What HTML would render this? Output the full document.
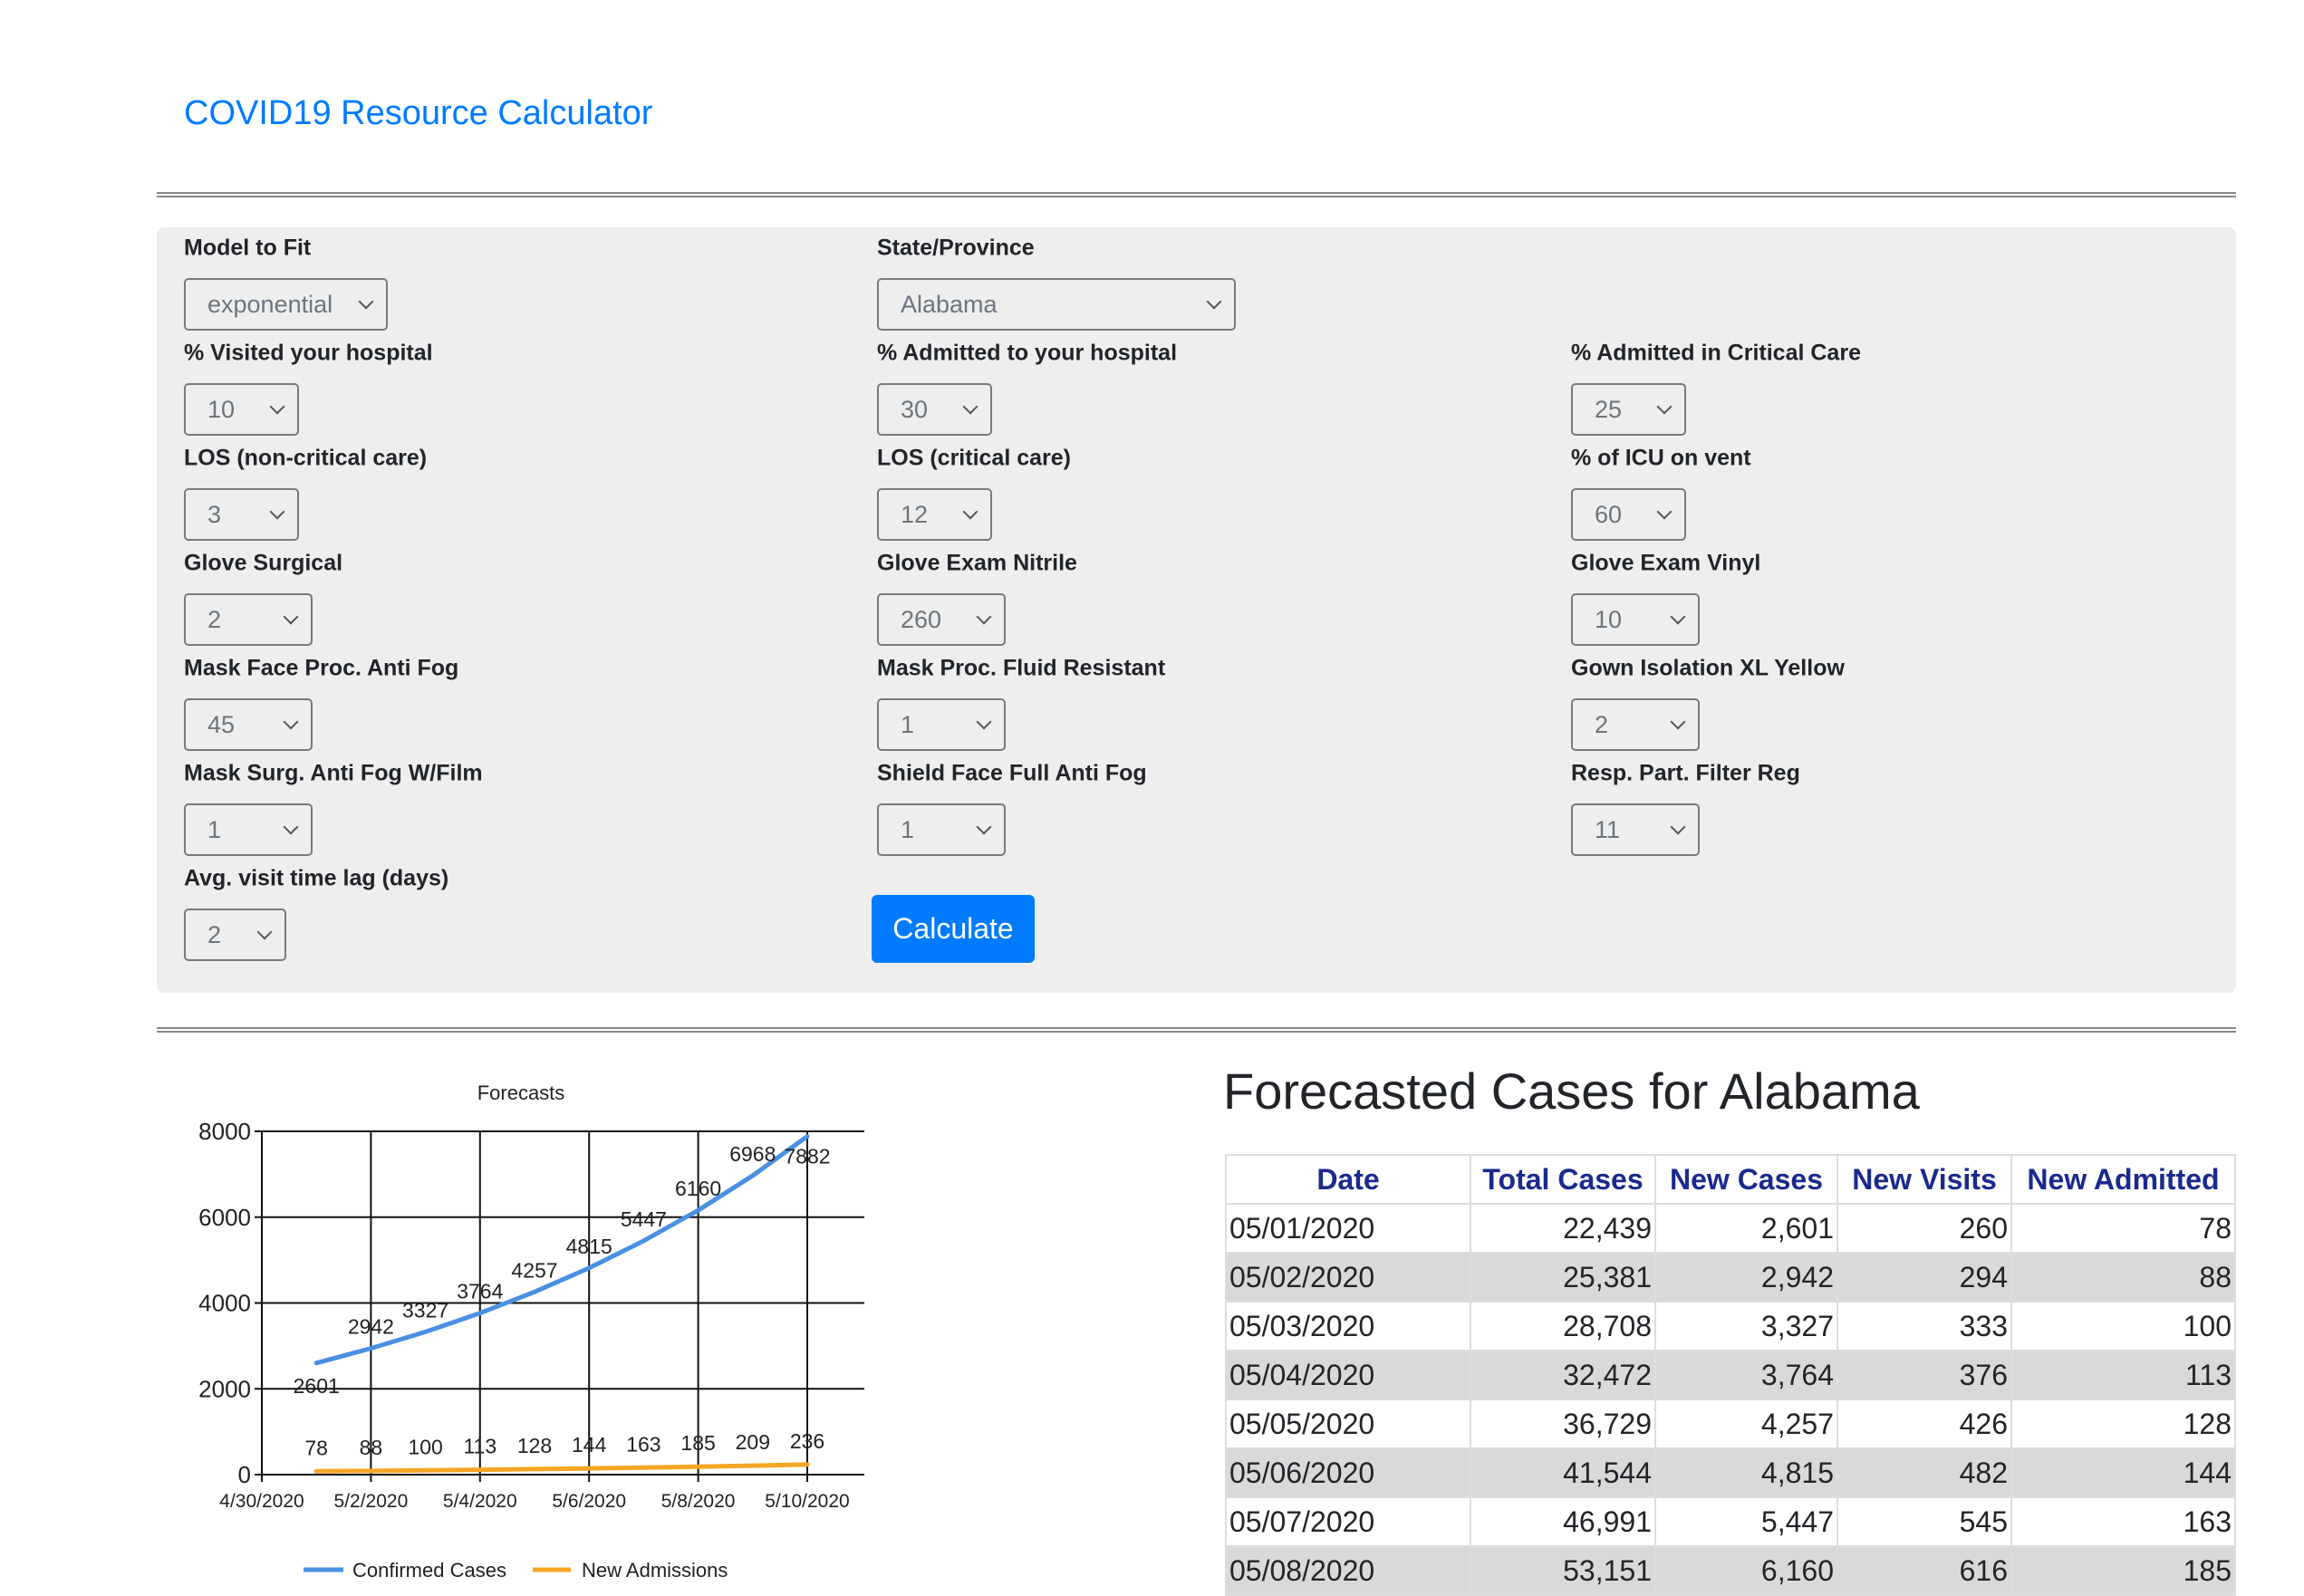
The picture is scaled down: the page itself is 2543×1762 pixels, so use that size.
<!DOCTYPE html>
<html><head><meta charset="utf-8">
<style>
body{margin:0;width:2543px;height:1743px;overflow:hidden;background:#fff;font-family:"Liberation Sans",sans-serif;color:#212529;position:relative}
.a{position:absolute}
.lbl{position:absolute;font-size:25px;font-weight:bold;color:#212529;transform:translateY(-50%);white-space:nowrap}
.sel{position:absolute;height:58px;border:2px solid #7a7a7a;border-radius:5px;box-sizing:border-box;background:#eee;color:#6c757d;font-size:27px;line-height:54px;padding-left:24px}
.sel:after{content:"";position:absolute;right:16px;top:18px;width:10px;height:10px;border-right:2px solid #555;border-bottom:2px solid #555;transform:rotate(45deg)}
table{border-collapse:collapse}
td,th{border:2px solid #ddd;font-size:32px;height:54px;padding:0 3px;box-sizing:border-box}
th{color:#1a2a8c}
td{text-align:right}
td:first-child{text-align:left}
tr.g td{background:#d9d9d9}
</style></head><body>
<div class="a" style="left:203px;top:104px;font-size:38px;color:#007bff">COVID19 Resource Calculator</div>
<div class="a" style="left:173px;top:212px;width:2295px;height:2px;border-top:2px solid #888;border-bottom:2px solid #888"></div>
<div class="a" style="left:173px;top:251px;width:2295px;height:845px;background:#eee;border-radius:8px"></div>
<div id="form"></div>
<div class="a" style="left:962px;top:988px;width:180px;height:75px;background:#007bff;color:#fff;border-radius:6px;font-size:32px;line-height:75px;text-align:center">Calculate</div>
<div class="a" style="left:173px;top:1134px;width:2295px;height:2px;border-top:2px solid #888;border-bottom:2px solid #888"></div>

<svg class="a" style="left:0;top:1150px" width="1000" height="593" id="chart" font-family="Liberation Sans, sans-serif"></svg>

<div class="a" style="left:1350px;top:1172px;font-size:56px;color:#212529">Forecasted Cases for Alabama</div>
<table class="a" style="left:1352px;top:1274px;width:1116px">
<tr><th style="width:270px">Date</th><th style="width:204px">Total Cases</th><th style="width:201px">New Cases</th><th style="width:192px">New Visits</th><th>New Admitted</th></tr>
<tr><td>05/01/2020</td><td>22,439</td><td>2,601</td><td>260</td><td>78</td></tr>
<tr class="g"><td>05/02/2020</td><td>25,381</td><td>2,942</td><td>294</td><td>88</td></tr>
<tr><td>05/03/2020</td><td>28,708</td><td>3,327</td><td>333</td><td>100</td></tr>
<tr class="g"><td>05/04/2020</td><td>32,472</td><td>3,764</td><td>376</td><td>113</td></tr>
<tr><td>05/05/2020</td><td>36,729</td><td>4,257</td><td>426</td><td>128</td></tr>
<tr class="g"><td>05/06/2020</td><td>41,544</td><td>4,815</td><td>482</td><td>144</td></tr>
<tr><td>05/07/2020</td><td>46,991</td><td>5,447</td><td>545</td><td>163</td></tr>
<tr class="g"><td>05/08/2020</td><td>53,151</td><td>6,160</td><td>616</td><td>185</td></tr>
</table>

<script>
const fields=[
["Model to Fit","exponential",203,0,225],["State/Province","Alabama",968,0,396],
["% Visited your hospital","10",203,1,127],["% Admitted to your hospital","30",968,1,127],["% Admitted in Critical Care","25",1734,1,127],
["LOS (non-critical care)","3",203,2,127],["LOS (critical care)","12",968,2,127],["% of ICU on vent","60",1734,2,127],
["Glove Surgical","2",203,3,142],["Glove Exam Nitrile","260",968,3,142],["Glove Exam Vinyl","10",1734,3,142],
["Mask Face Proc. Anti Fog","45",203,4,142],["Mask Proc. Fluid Resistant","1",968,4,142],["Gown Isolation XL Yellow","2",1734,4,142],
["Mask Surg. Anti Fog W/Film","1",203,5,142],["Shield Face Full Anti Fog","1",968,5,142],["Resp. Part. Filter Reg","11",1734,5,142],
["Avg. visit time lag (days)","2",203,6,113]];
const form=document.getElementById('form');
fields.forEach(f=>{
 const y=274+f[3]*116;
 const l=document.createElement('div');l.className='lbl';l.textContent=f[0];
 l.style.left=f[2]+'px';l.style.top=y+'px';
 
 
 form.appendChild(l);
 const s=document.createElement('div');s.className='sel';s.textContent=f[1];
 s.style.left=f[2]+'px';s.style.top=(y+33)+'px';s.style.width=f[4]+'px';
 
 
 form.appendChild(s);
});

// chart data
const days=[1,2,3,4,5,6,7,8,9,10];
const confirmed=[2601,2942,3327,3764,4257,4815,5447,6160,6968,7882];
const admissions=[78,88,100,113,128,144,163,185,209,236];
const yTicks=[0,2000,4000,6000,8000];
const xTickDays=[0,2,4,6,8,10];
const xTickLabels=["4/30/2020","5/2/2020","5/4/2020","5/6/2020","5/8/2020","5/10/2020"];
const OY=1150;
const X=d=>289+d*60.2, Y=v=>1628-OY-v*(379/8000);
const svg=document.getElementById('chart');const NS='http://www.w3.org/2000/svg';
function el(t,a,txt){const e=document.createElementNS(NS,t);for(const k in a)e.setAttribute(k,a[k]);if(txt!=null)e.textContent=txt;svg.appendChild(e);return e;}
let e=el('text',{x:575,y:64,'font-size':22,'text-anchor':'middle',fill:'#222'},'Forecasts');


yTicks.forEach(v=>{
 let g=el('line',{x1:281,x2:954,y1:Y(v),y2:Y(v),stroke:'#111','stroke-width':2});
 
 
 let t=el('text',{x:277,y:Y(v)+9,'font-size':26,'text-anchor':'end',fill:'#222'},String(v));
 
 
});
xTickDays.forEach((d,i)=>{
 let g=el('line',{x1:X(d),x2:X(d),y1:Y(8000),y2:Y(0)+8,stroke:'#111','stroke-width':2});
 
 
 let t=el('text',{x:X(d),y:Y(0)+36,'font-size':21,'text-anchor':'middle',fill:'#222'},xTickLabels[i]);
 
 
});
function series(vals,color,name,off){
 let p=el('polyline',{points:vals.map((v,i)=>X(days[i])+','+Y(v)).join(' '),fill:'none',stroke:color,'stroke-width':5,'stroke-linecap':'round'});
 
 
 vals.forEach((v,i)=>{
  let o=off;
  if(name==='confirmed-cases-line'&&i===0)o=33;
  if(name==='confirmed-cases-line'&&i===vals.length-1)o=30;
  let t=el('text',{x:X(days[i]),y:Y(v)+o,'font-size':23,'text-anchor':'middle',fill:'#222'},String(v));
  
  
 });
}
series(confirmed,'#4a90e2','confirmed-cases-line',-16);
series(admissions,'#f5a623','new-admissions-line',-18);
let l1=el('line',{x1:335,x2:379,y1:583,y2:583,stroke:'#4a90e2','stroke-width':5});


let t1=el('text',{x:389,y:591,'font-size':22,fill:'#222'},'Confirmed Cases');


let l2=el('line',{x1:588,x2:630,y1:583,y2:583,stroke:'#f5a623','stroke-width':5});


let t2=el('text',{x:642,y:591,'font-size':22,fill:'#222'},'New Admissions');


</script>
</body></html>
